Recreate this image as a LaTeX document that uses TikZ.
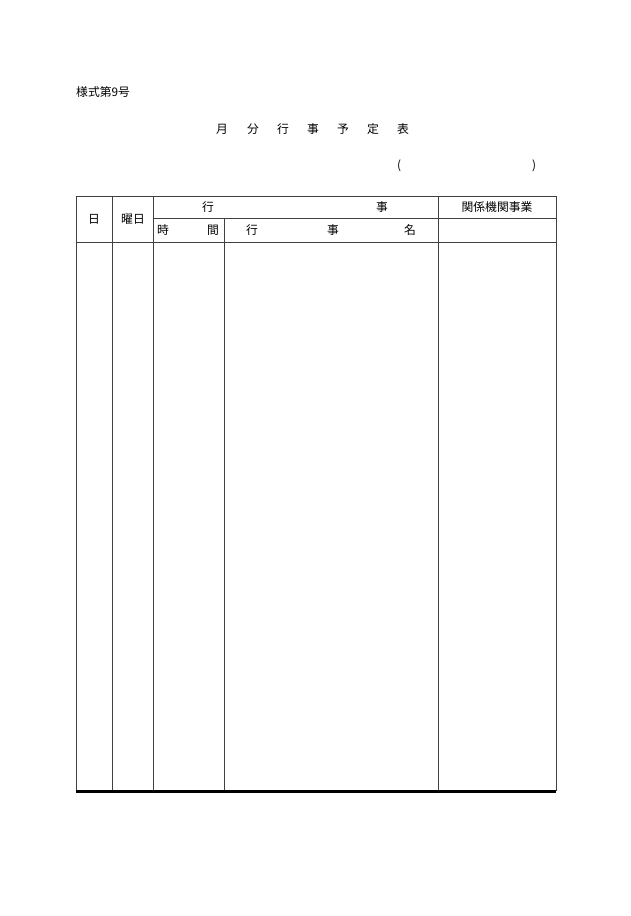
\documentclass[tikz,border=0pt]{standalone}
\usepackage{fontspec}
\setmainfont{Noto Sans CJK JP}
\begin{document}
\begin{tikzpicture}[x=1pt,y=-1pt,
  every node/.style={inner sep=0pt,font=\fontsize{11.8}{13}\selectfont},
  rule/.style={draw=black!75,line width=0.6pt}]
\useasboundingbox[fill=white] (0,0) rectangle (630,916);
\node (F) at (76,92) [anchor=west] {様式第9号};
\node (T1) at (222,129) {月};
\node (T2) at (253,129) {分};
\node (T3) at (283,129) {行};
\node (T4) at (313,129) {事};
\node (T5) at (343,129) {予};
\node (T6) at (373,129) {定};
\node (T7) at (403,129) {表};
\node (P1) at (399,166) {(};
\node (P2) at (534,166) {)};
\draw[rule] (76,196) rectangle (556,790);
\draw[rule] (153,218) -- (556,218);
\draw[rule] (76,242) -- (556,242);
\draw[rule] (112,196) -- (112,790);
\draw[rule] (153,196) -- (153,790);
\draw[rule] (224,218) -- (224,790);
\draw[rule] (438,196) -- (438,790);
\draw[line width=3pt] (76,791.5) -- (556,791.5);
\node (D) at (94,219) {日};
\node (W) at (133,219) {曜日};
\node (G1) at (208,207) {行};
\node (G2) at (382,207) {事};
\node (K) at (497,207) {関係機関事業};
\node (J1) at (163,230) {時};
\node (J2) at (213,230) {間};
\node (N1) at (252,230) {行};
\node (N2) at (333,230) {事};
\node (N3) at (410,230) {名};
\end{tikzpicture}
\end{document}
